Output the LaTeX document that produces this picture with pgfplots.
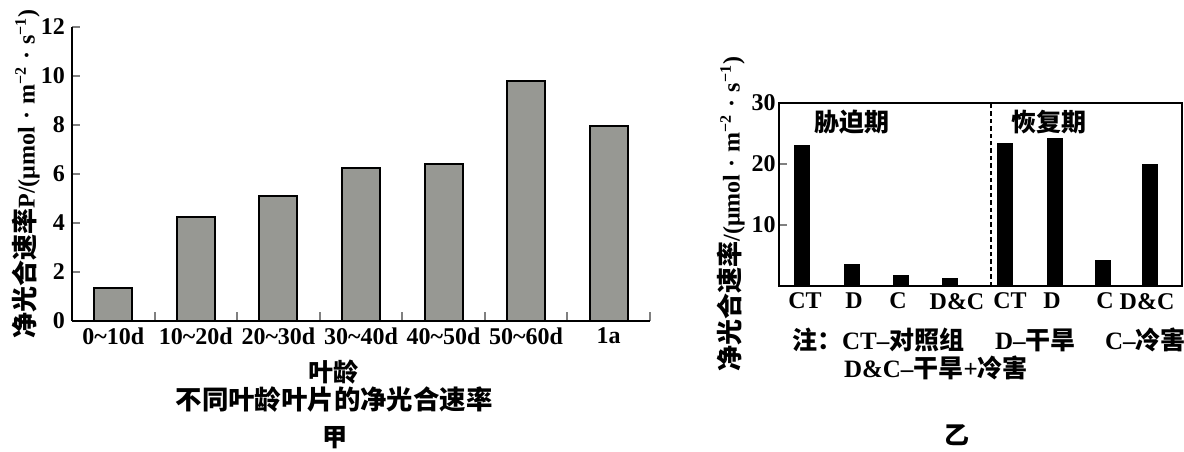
\documentclass[border=0pt]{standalone}
\usepackage{fontspec}
\setmainfont{Liberation Serif}
\newfontfamily\cjk{Noto Sans CJK SC}
\usepackage{pgfplots}
\pgfplotsset{compat=1.18}

\definecolor{barfill}{RGB}{151,152,147}

\newcommand\tickfont{\fontsize{12}{14}\selectfont\bfseries}
\newcommand\labfont{\fontsize{12}{14}\selectfont\bfseries}
\newcommand\txtfont{\fontsize{12.5}{15}\selectfont\bfseries}
% unit part of the rate label
\newcommand\dotsep{\hspace{3.5pt}·\hspace{3.5pt}}
\newcommand\rateunit{(μmol\dotsep m\textsuperscript{−2}\dotsep s\textsuperscript{−1})}
\newcommand\cjklab[1]{{\fontsize{13}{14}\selectfont\cjk #1}}

\begin{document}
\begin{tikzpicture}[x=1pt,y=1pt]
\useasboundingbox (0,0) rectangle (592,225.5);

% 甲: net photosynthetic rate by leaf age
\begin{axis}[
  at={(36pt,65pt)}, anchor=south west,
  scale only axis, width=289pt, height=147pt,
  xmin=0, xmax=7, ymin=0, ymax=12,
  axis x line=bottom, axis y line=left,
  axis line style={-, line width=1pt},
  tick align=inside,
  ytick={0,2,...,12},
  xtick={0.5,1.5,...,6.5},
  xticklabels={0\textasciitilde10d,10\textasciitilde20d,20\textasciitilde30d,30\textasciitilde40d,40\textasciitilde50d,50\textasciitilde60d,1a},
  minor xtick={1,2,...,7},
  major x tick style={draw=none},
  minor x tick style={line width=1pt},
  major y tick style={line width=1pt},
  major tick length=4pt, minor tick length=4.5pt,
  tick label style={font=\tickfont},
  /pgf/number format/assume math mode=true,
  ylabel={\cjklab{净光合速率}P/\rateunit},
  ylabel style={font=\labfont, at={(axis description cs:-0.0796,0.5)}, anchor=center},
  clip=false,
]
\addplot[ybar, bar width=19pt, fill=barfill, draw=black, line width=1pt]
  coordinates {(0.5,1.35) (1.5,4.24) (2.5,5.1) (3.5,6.24) (4.5,6.4) (5.5,9.8) (6.5,7.96)};
\end{axis}

\node[font=\txtfont] at (166.5,39.5) {\cjk 叶龄};
\node[font=\fontsize{13.2}{15}\selectfont\bfseries] at (167,25.5) {\cjk 不同叶龄叶片的净光合速率};
\node[font=\txtfont] at (167.5,6.5) {\cjk 甲};

% 乙: stress and recovery periods
\begin{axis}[
  at={(389.5pt,82.5pt)}, anchor=south west,
  scale only axis, width=201.5pt, height=91.5pt,
  xmin=779, xmax=1182, ymin=0, ymax=30,
  axis line style={line width=1pt},
  tick align=inside,
  ytick={10,20,30}, ytick pos=left,
  major y tick style={line width=1pt},
  major tick length=4pt,
  xtick={805,854,898,957,1010,1052,1105,1147},
  xticklabels={CT,D,C,D\&C,CT,D,C,D\&C},
  major x tick style={draw=none},
  tick label style={font=\tickfont},
  yticklabel style={inner sep=1.5pt},
  /pgf/number format/assume math mode=true,
  ylabel={\cjklab{净光合速率}/\rateunit},
  ylabel style={font=\labfont, at={(axis description cs:-0.119,0.393)}, anchor=center},
  clip=false,
]
\addplot[ybar, bar width=7.5pt, fill=black, draw=black]
  coordinates {(801.5,23.0) (851.5,3.5) (900.5,1.8) (949.5,1.3)
               (1004.5,23.3) (1054.5,24.2) (1102.5,4.2) (1150,20.0)};
\draw[line width=0.9pt, dash pattern=on 2.2pt off 1.5pt] (axis cs:991,0) -- (axis cs:991,30);
\node[font=\txtfont] at (axis cs:851.5,26.8) {\cjk 胁迫期};
\node[font=\txtfont] at (axis cs:1048.5,26.8) {\cjk 恢复期};
\end{axis}

\node[font=\txtfont, anchor=west] at (392.5,55.5) {{\cjk 注：}CT–{\cjk 对照组}};
\node[font=\txtfont, anchor=west] at (494,55.5) {D–{\cjk 干旱}};
\node[font=\txtfont, anchor=west] at (549,55.5) {C–{\cjk 冷害}};
\node[font=\txtfont, anchor=west] at (418.5,41.5) {D\&C–{\cjk 干旱}+{\cjk 冷害}};
\node[font=\txtfont] at (478.5,8) {\cjk 乙};
\end{tikzpicture}
\end{document}
